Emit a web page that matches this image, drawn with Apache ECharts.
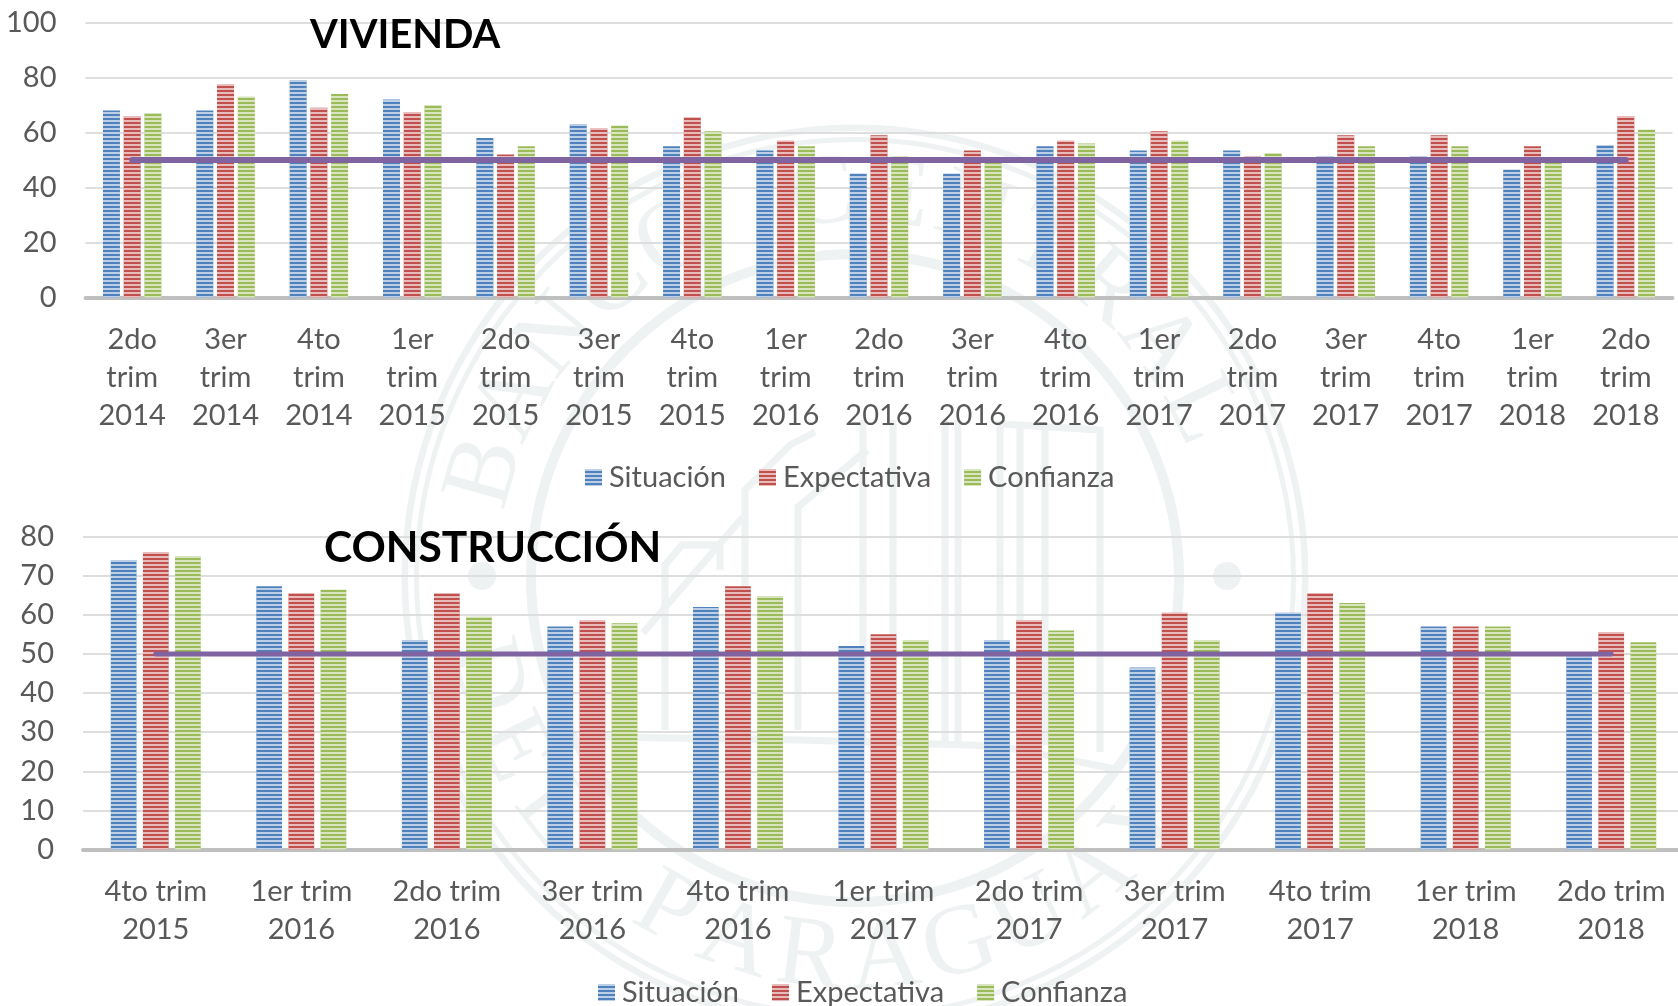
<!DOCTYPE html>
<html><head><meta charset="utf-8">
<style>html,body{margin:0;padding:0;background:#fff}#c{width:1678px;height:1006px}</style>
<script src="https://cdn.jsdelivr.net/npm/echarts@6/dist/echarts.min.js"></script>
</head><body><div id="c"></div>
<script>
const FONT='Lato';
const cats1=['2do\ntrim\n2014','3er\ntrim\n2014','4to\ntrim\n2014','1er\ntrim\n2015','2do\ntrim\n2015','3er\ntrim\n2015','4to\ntrim\n2015','1er\ntrim\n2016','2do\ntrim\n2016','3er\ntrim\n2016','4to\ntrim\n2016','1er\ntrim\n2017','2do\ntrim\n2017','3er\ntrim\n2017','4to\ntrim\n2017','1er\ntrim\n2018','2do\ntrim\n2018'];
const sit1=[68,68,79,72,58,63,55,53.5,45,45,55,53.5,53.5,51.5,51.5,46.5,55.5];
const exp1=[66,77.5,69,67.5,52,61.5,65.5,57,59,53.5,57,60.5,51.5,59,59,55,66];
const con1=[67,73,74,70,55,62.5,60.5,55,51.5,50,56,57,52.5,55,55,50,61];
const ref1=[50,50,50,50,50,50,50,50,50,50,50,50,50,50,50,50,50];
const cats2=['4to trim\n2015','1er trim\n2016','2do trim\n2016','3er trim\n2016','4to trim\n2016','1er trim\n2017','2do trim\n2017','3er trim\n2017','4to trim\n2017','1er trim\n2018','2do trim\n2018'];
const sit2=[74,67.3,53.5,57,62,52,53.5,46.5,60.5,57,50];
const exp2=[76,65.5,65.5,58.5,67.3,55,58.5,60.5,65.5,57,55.5];
const con2=[75,66.4,59.5,57.8,64.7,53.5,56,53.5,63,57,53];
const ref2=[50,50,50,50,50,50,50,50,50,50,50];
const names=['Situación','Expectativa','Confianza'];
const colors=['#4F81BD','#C0504D','#9BBB59'];

const WM='#EEF2F2';
function watermark(){
  const cx=855,cy=578,els=[];
  [[447,453.5],[436,441],[319,329]].forEach(r=>els.push({type:'ring',z:-5,shape:{cx,cy,r0:r[0],r:r[1]},style:{fill:WM},silent:true}));
  [[482,576],[1227,576]].forEach(p=>els.push({type:'circle',z:-5,shape:{cx:p[0],cy:p[1],r:14},style:{fill:WM},silent:true}));
  const put=(s,a0,a1,top)=>{const ch=[...s];ch.forEach((c,i)=>{
    const a=(a0+(a1-a0)*i/(ch.length-1))*Math.PI/180,R=383;
    const x=cx+R*Math.sin(a),y=cy-R*Math.cos(a);
    els.push({type:'text',z:-5,silent:true,x,y,rotation:top?-a:-(a-Math.PI),
      style:{text:c,font:'100px "Liberation Serif"',fill:WM,align:'center',verticalAlign:'middle'}});
  });};
  put('BANCO CENTRAL',-74,64,true);
  put('DEL PARAGUAY',-105,-230,false);
  const lines=[
   [[665,730],[665,565],[682,545],[720,545],[720,570]],
   [[643,633],[743,517]],[[745,730],[745,490],[790,445],[815,432]],
   [[798,730],[798,507],[867,450]],
   [[863,742],[863,420]],[[893,742],[893,420]],
   [[945,745],[945,420]],[[958,745],[958,420]],
   [[1000,748],[1000,424],[1100,430],[1100,752]],
   [[1020,424],[1020,745]],[[1045,430],[1045,745]],
   [[600,737],[800,740],[1000,746],[1120,770]]
  ];
  lines.forEach(p=>els.push({type:'polyline',z:-5,silent:true,shape:{points:p},style:{stroke:WM,lineWidth:7,fill:null}}));
  return els;
}
function barSeries(name,i,data,g,w,gap){
  return {name,type:'bar',xAxisIndex:g,yAxisIndex:g,data,barWidth:w,barGap:gap,
    itemStyle:{color:colors[i],decal:{symbol:'rect',symbolSize:1,dashArrayX:[1,0],dashArrayY:[2,2],rotation:0,color:'rgba(255,255,255,0.62)'}}};
}
function lineSeries(data,g,w){
  return {name:'Referencia',type:'line',xAxisIndex:g,yAxisIndex:g,data,symbol:'none',z:5,silent:true,
    lineStyle:{color:'#8064A2',width:w,cap:'round'}};
}
const txt={fontFamily:FONT,color:'#595959',fontSize:29};
function xA(g,data,margin){return {type:'category',gridIndex:g,data,
  axisLine:{show:true,lineStyle:{color:'#BFBFBF',width:4}},axisTick:{show:false},
  axisLabel:{...txt,interval:0,lineHeight:38,margin,hideOverlap:false}};}
function yA(g,max,interval){return {type:'value',gridIndex:g,min:0,max,interval,
  axisLine:{show:false},axisTick:{show:false},
  splitLine:{lineStyle:{color:'#DEDEDE',width:2}},
  axisLabel:{...txt,margin:29}};}
function legend(left,top){return {data:names,left,top,orient:'horizontal',icon:'rect',itemWidth:17,itemHeight:17,itemGap:33,
  selectedMode:false,textStyle:{...txt,padding:[0,0,0,2]}};}
const chart=echarts.init(document.getElementById('c'),null,{renderer:'canvas'});
chart.setOption({
  animation:false,backgroundColor:'#fff',
  title:[
    {text:'VIVIENDA',left:305,top:10,textStyle:{fontFamily:FONT,fontSize:40,fontWeight:'bold',color:'#000'}},
    {text:'CONSTRUCCIÓN',left:319,top:522,textStyle:{fontFamily:FONT,fontSize:42.5,fontWeight:'bold',color:'#000'}}
  ],
  grid:[{left:85.5,top:22.5,width:1587,height:275},{left:83,top:536.5,width:1601,height:313,outerBoundsMode:'none'}],
  xAxis:[xA(0,cats1,23),xA(1,cats2,23)],
  yAxis:[yA(0,100,20),yA(1,80,10)],
  legend:[legend(580,458),legend(593,973)],
  graphic:watermark(),
  series:[
    barSeries(names[0],0,sit1,0,17,'22%'),barSeries(names[1],1,exp1,0,17,'22%'),barSeries(names[2],2,con1,0,17,'22%'),lineSeries(ref1,0,6),
    barSeries(names[0],0,sit2,1,25.7,'25%'),barSeries(names[1],1,exp2,1,25.7,'25%'),barSeries(names[2],2,con2,1,25.7,'25%'),lineSeries(ref2,1,5)
  ]
});
</script></body></html>
